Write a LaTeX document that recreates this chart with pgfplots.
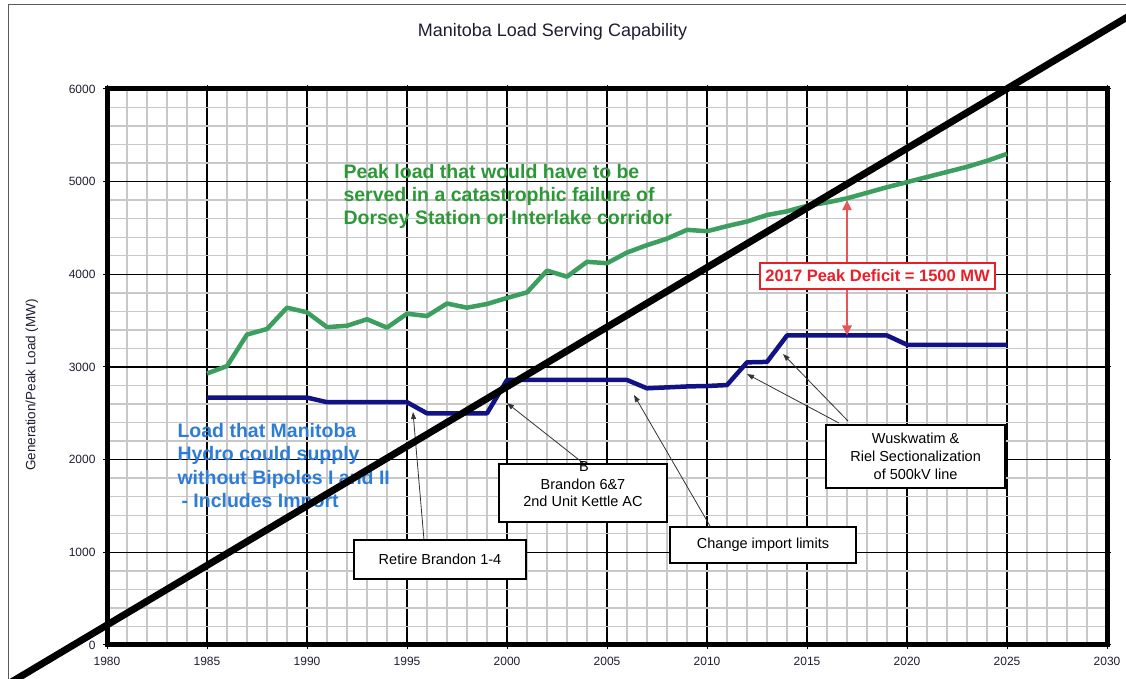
\documentclass[border=0pt]{standalone}
\usepackage{pgfplots}
\pgfplotsset{compat=1.18}
\usepackage{fontspec}
\setmainfont{Liberation Sans}
\usetikzlibrary{arrows.meta}
\definecolor{peakgreen}{RGB}{60,158,95}
\definecolor{supplyblue}{RGB}{18,18,135}
\definecolor{txtgreen}{RGB}{45,152,55}
\definecolor{txtblue}{RGB}{45,125,215}
\definecolor{minorgray}{RGB}{200,200,200}
\definecolor{defred}{RGB}{235,30,40}
\definecolor{arrred}{RGB}{232,85,85}
\definecolor{framegray}{RGB}{90,90,90}
\definecolor{titlecol}{RGB}{30,30,50}
\begin{document}
\begin{tikzpicture}
\useasboundingbox (0,0) rectangle (1126pt,679pt);
\clip (0,0) rectangle (1126pt,679pt);
\fill[white] (0,0) rectangle (1126pt,679pt);
\draw[framegray, line width=1pt] (8pt,-10pt) -- (8pt,674pt) -- (1140pt,674pt);
\node[anchor=base, font=\fontsize{18}{21}\selectfont, text=titlecol] at (552.5pt,642.5pt) {Manitoba Load Serving Capability};
\node[rotate=90, font=\fontsize{13.5}{16}\selectfont, text=titlecol] at (32pt,294pt) {Generation/Peak Load (MW)};
\begin{axis}[
  at={(107pt,34pt)}, anchor=south west,
  scale only axis, width=1000pt, height=556pt,
  xmin=1980, xmax=2030, ymin=0, ymax=6000,
  xtick={1980,1985,...,2030}, ytick={0,1000,...,6000},
  minor x tick num=4, minor y tick num=4,
  grid=both,
  major grid style={black, line width=1.2pt},
  minor grid style={minorgray, line width=1.4pt},
  axis line style={black, line width=5pt},
  tick align=outside, major tick length=4pt, minor tick length=0pt,
  major tick style={black, line width=1pt},
  /pgf/number format/1000 sep={},
  /pgf/number format/assume math mode=true,
  ticklabel style={font=\fontsize{12}{14}\selectfont, text=titlecol},
  xticklabel style={yshift=-5pt},
  yticklabel style={xshift=-4pt},
  clip=false,
]
% Peak load (green)
\addplot[peakgreen, line width=4.5pt, line join=round] coordinates {
(1985,2930) (1986,3010) (1987,3350) (1988,3410) (1989,3640) (1990,3590)
(1991,3430) (1992,3445) (1993,3515) (1994,3425) (1995,3575) (1996,3550)
(1997,3685) (1998,3640) (1999,3680) (2000,3745) (2001,3805) (2002,4040)
(2003,3975) (2004,4135) (2005,4120) (2006,4235) (2007,4315) (2008,4385)
(2009,4480) (2010,4465) (2011,4520) (2012,4570) (2013,4640) (2014,4680)
(2015,4740) (2016,4775) (2017,4820) (2018,4880) (2019,4940) (2020,4995)
(2021,5050) (2022,5105) (2023,5160) (2024,5225) (2025,5300)
};
% Load Manitoba Hydro could supply (blue)
\addplot[supplyblue, line width=4.5pt, line join=round] coordinates {
(1985,2670) (1990,2670) (1991,2620) (1995,2620) (1996,2500) (1999,2500)
(2000,2860) (2006,2860) (2007,2770) (2008,2780) (2009,2790) (2010,2795)
(2011,2805) (2012,3050) (2013,3055) (2014,3340) (2019,3340) (2020,3240)
(2025,3240)
};
% texts
\node[anchor=base west, font=\bfseries\fontsize{19.5}{23}\selectfont, text=txtgreen] at (axis cs:1991.65,5039) {Peak load that would have to be};
\node[anchor=base west, font=\bfseries\fontsize{19.5}{23}\selectfont, text=txtgreen] at (axis cs:1991.65,4791) {served in a catastrophic failure of};
\node[anchor=base west, font=\bfseries\fontsize{19.5}{23}\selectfont, text=txtgreen] at (axis cs:1991.65,4543) {Dorsey Station or Interlake corridor};
\node[anchor=base west, font=\bfseries\fontsize{19.5}{23}\selectfont, text=txtblue] at (axis cs:1983.35,2234) {Load that Manitoba};
\node[anchor=base west, font=\bfseries\fontsize{19.5}{23}\selectfont, text=txtblue] at (axis cs:1983.35,1986) {Hydro could supply};
\node[anchor=base west, font=\bfseries\fontsize{19.5}{23}\selectfont, text=txtblue] at (axis cs:1983.35,1737) {without Bipoles I and II};
\node[anchor=base west, font=\bfseries\fontsize{19.5}{23}\selectfont, text=txtblue] at (axis cs:1983.35,1489) {\hspace{4pt}- Includes Import};
% annotation arrows
\draw[black!80, line width=0.8pt, -{Triangle[length=7pt,width=5pt]}] (axis cs:1995.85,1133) -- (axis cs:1995.3,2514);
\draw[black!80, line width=0.8pt, -{Triangle[length=7pt,width=5pt]}] (axis cs:2003.8,1964) -- (axis cs:2000.0,2611);
\draw[black!80, line width=0.8pt, -{Triangle[length=7pt,width=5pt]}] (axis cs:2010.15,1284) -- (axis cs:2006.35,2698);
\draw[black!80, line width=0.8pt, -{Triangle[length=7pt,width=5pt]}] (axis cs:2016.6,2395) -- (axis cs:2012.0,2924);
\draw[black!80, line width=0.8pt, -{Triangle[length=7pt,width=5pt]}] (axis cs:2017.05,2417) -- (axis cs:2013.8,3140);
% annotation boxes
\node[draw=black, line width=1.3pt, fill=white, minimum width=172pt, minimum height=39pt, inner sep=0pt, font=\fontsize{14.5}{17}\selectfont] at (axis cs:1996.65,923) {Retire Brandon 1-4};
\node[draw=black, line width=1.3pt, fill=white, minimum width=168pt, minimum height=58pt, inner sep=0pt, align=center, font=\fontsize{14.5}{17}\selectfont] at (axis cs:2003.8,1640) {Brandon 6\&7\\2nd Unit Kettle AC};
\node[font=\fontsize{14.5}{17}\selectfont] at (axis cs:2003.85,1921) {B};
\node[draw=black, line width=1.3pt, fill=white, minimum width=186pt, minimum height=36pt, inner sep=0pt, font=\fontsize{14.5}{17}\selectfont] at (axis cs:2012.8,1079) {Change import limits};
\node[draw=black, line width=1.3pt, fill=white, minimum width=179pt, minimum height=63pt, inner sep=0pt, align=center, font=\fontsize{14.5}{18}\selectfont] at (axis cs:2020.43,2034) {Wuskwatim \&\\Riel Sectionalization\\of 500kV line};
% red deficit arrow and box
\draw[arrred, line width=2.5pt, {Triangle[length=10pt,width=9pt]}-{Triangle[length=10pt,width=9pt]}] (axis cs:2017,3340) -- (axis cs:2017,4800);
\node[draw=defred, line width=1.5pt, fill=white, minimum width=235pt, minimum height=26pt, inner sep=0pt, text=defred, font=\bfseries\fontsize{16.5}{19}\selectfont] at (axis cs:2018.53,3982) {2017 Peak Deficit = 1500 MW};
% diagonal strike line
\addplot[black, line width=7pt, forget plot] coordinates {(1974,-556) (2032,6903)};
\end{axis}
\end{tikzpicture}
\end{document}
